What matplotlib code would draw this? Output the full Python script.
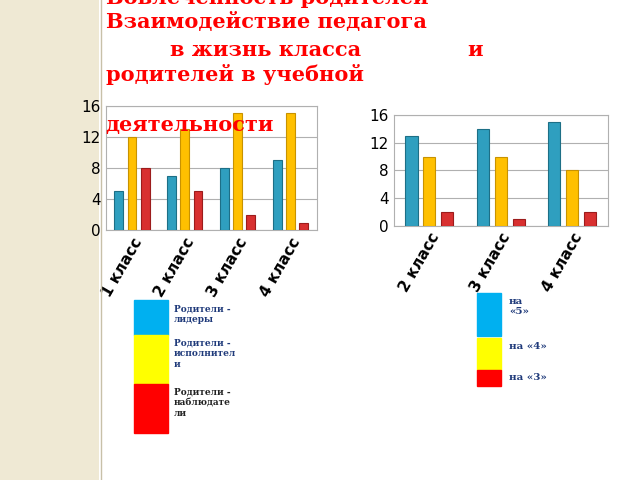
import matplotlib.pyplot as plt
import matplotlib.patches as mpatches

plt.rcParams['font.family'] = ['DejaVu Sans']

left_classes = ['1 класс', '2 класс', '3 класс', '4 класс']
left_blue = [5, 7, 8, 9]
left_yellow = [12, 13, 15, 15]
left_red = [8, 5, 2, 1]

right_classes = ['2 класс', '3 класс', '4 класс']
right_blue = [13, 14, 15]
right_yellow = [10, 10, 8]
right_red = [2, 1, 2]

colors = ['#2f9fbf', '#ffc000', '#d83030']
edges = ['#1d6f86', '#c89200', '#9c1c1c']

fig = plt.figure(figsize=(6.4, 4.8), dpi=100)
fig.patch.set_facecolor('white')

# beige strip on the left
strip = fig.add_axes([0, 0, 0.155, 1])
strip.set_facecolor('#efe9d4')
strip.set_xticks([]); strip.set_yticks([])
for s in strip.spines.values():
    s.set_visible(False)
fig.add_artist(plt.Line2D([0.158, 0.158], [0, 1], color='#c8c0a8', lw=1))


def bars(ax, classes, series):
    n = len(classes)
    w = 0.17
    for i, vals in enumerate(series):
        xs = [k + (i - 1) * 0.25 for k in range(n)]
        ax.bar(xs, vals, w, color=colors[i], edgecolor=edges[i], linewidth=0.8, zorder=3)
    ax.set_ylim(0, 16)
    ax.set_yticks([0, 4, 8, 12, 16])
    ax.set_xlim(-0.5, n - 0.5)
    ax.set_xticks(range(n))
    ax.set_xticklabels(classes, rotation=60, ha='right', rotation_mode='anchor',
                       fontsize=11, fontweight='bold')
    ax.tick_params(axis='y', labelsize=11, length=0)
    ax.tick_params(axis='x', length=0)
    ax.grid(axis='y', color='#b0b0b0', lw=0.8, zorder=0)
    for s in ax.spines.values():
        s.set_color('#b0b0b0')


ax1 = fig.add_axes([0.165, 0.52, 0.33, 0.26])
bars(ax1, left_classes, [left_blue, left_yellow, left_red])
ax2 = fig.add_axes([0.615, 0.53, 0.335, 0.23])
bars(ax2, right_classes, [right_blue, right_yellow, right_red])

title_lines = [
    (0.165, 1.005, 'Вовлечённость родителей'),
    (0.165, 0.955, 'Взаимодействие педагога'),
    (0.265, 0.895, 'в жизнь класса'),
    (0.73, 0.895, 'и'),
    (0.165, 0.845, 'родителей в учебной'),
    (0.165, 0.74, 'деятельности'),
]
for x, y, t in title_lines:
    fig.text(x, y, t, color='red', fontsize=15, fontweight='bold',
             family='DejaVu Serif', va='center')

# legends drawn as coloured boxes
leg1 = [('#00b0f0', 'Родители -\nлидеры', '#1f3a7a', 0.302, 0.072),
        ('#ffff00', 'Родители -\nисполнител\nи', '#1f3a7a', 0.2, 0.102),
        ('#ff0000', 'Родители -\nнаблюдате\nли', '#222222', 0.098, 0.102)]
for c, t, tc, y, h in leg1:
    fig.add_artist(mpatches.Rectangle((0.21, y), 0.053, h, color=c,
                                      transform=fig.transFigure))
    fig.text(0.272, y + h - 0.008, t, fontsize=6.5, fontweight='bold',
             family='DejaVu Serif', color=tc, va='top', linespacing=1.2)

leg2 = [('#00b0f0', 'на\n«5»', 0.3, 0.09),
        ('#ffff00', 'на «4»', 0.23, 0.066),
        ('#ff0000', 'на «3»', 0.195, 0.035)]
for c, t, y, h in leg2:
    fig.add_artist(mpatches.Rectangle((0.745, y), 0.038, h, color=c,
                                      transform=fig.transFigure))
    fig.text(0.795, y + h - 0.008, t, fontsize=7.5, fontweight='bold',
             family='DejaVu Serif', color='#1f3a7a', va='top')

fig.savefig('out.png', dpi=100)
